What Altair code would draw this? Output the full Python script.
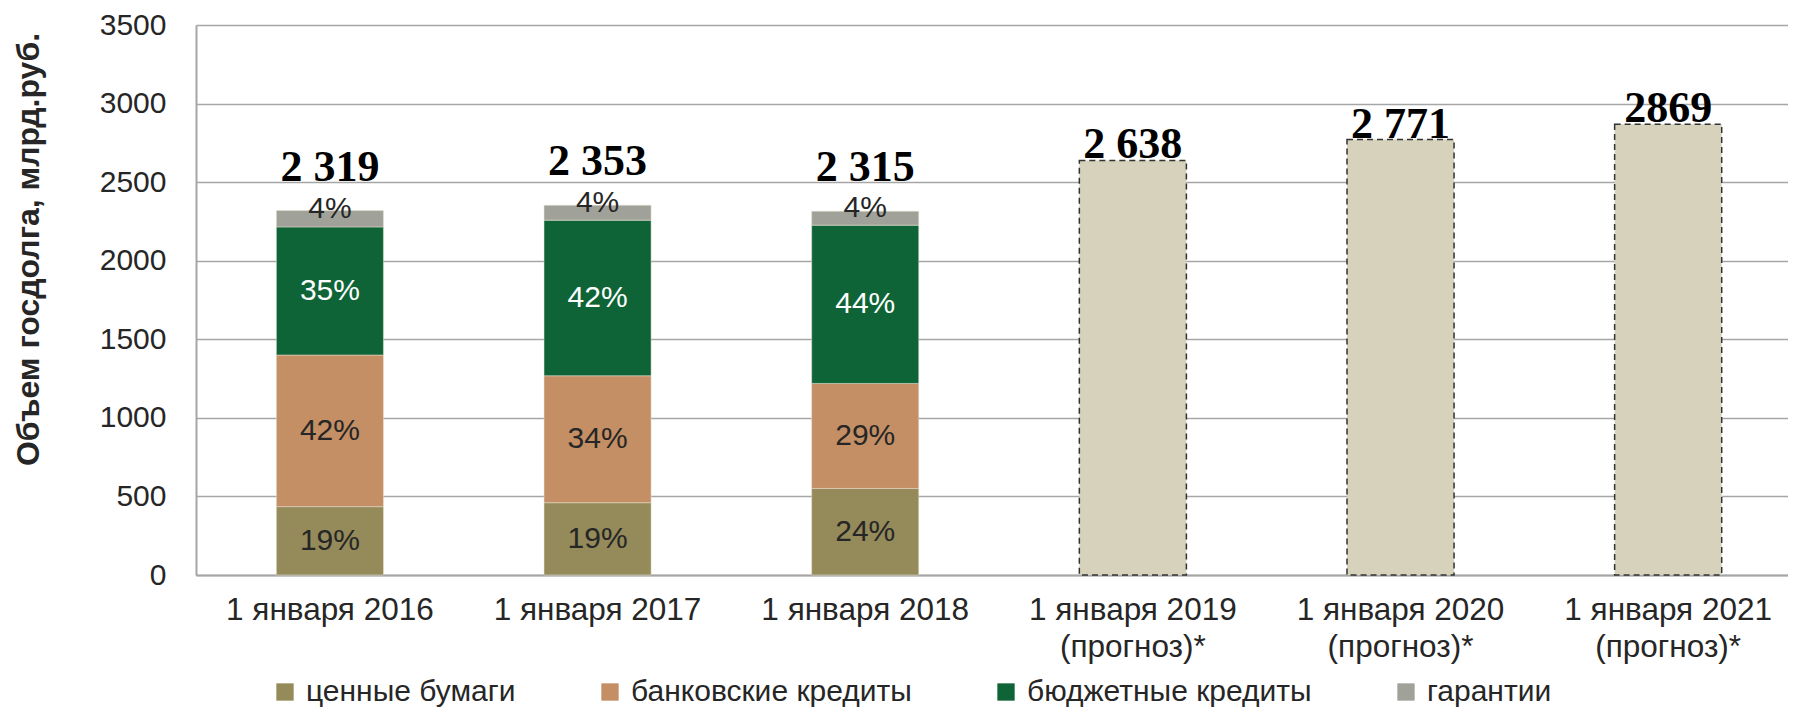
import altair as alt
import pandas as pd

# ---- data ----
categories = ["1 января 2016", "1 января 2017", "1 января 2018",
              "1 января 2019\n(прогноз)*", "1 января 2020\n(прогноз)*",
              "1 января 2021\n(прогноз)*"]
actual_years = categories[:3]
forecast_years = categories[3:]

components = ["ценные бумаги", "банковские кредиты", "бюджетные кредиты", "гарантии"]
securities = [435, 460, 551]
bank_loans = [965, 808, 668]
budget_loans = [815, 990, 1007]
guarantees = [104, 95, 89]

securities_pct = ["19%", "19%", "24%"]
bank_pct = ["42%", "34%", "29%"]
budget_pct = ["35%", "42%", "44%"]
guarantee_pct = ["4%", "4%", "4%"]

actual_totals = [2319, 2353, 2315]
actual_total_labels = ["2 319", "2 353", "2 315"]
forecast_totals = [2638, 2771, 2869]
forecast_total_labels = ["2 638", "2 771", "2869"]

colors = ["#948A5A", "#C48F64", "#0E6436", "#A0A29A"]
text_colors = ["#262626", "#262626", "#FFFFFF", "#262626"]

# ---- tables ----
series = [securities, bank_loans, budget_loans, guarantees]
pcts = [securities_pct, bank_pct, budget_pct, guarantee_pct]
rows = []
for i, cat in enumerate(actual_years):
    base = 0
    for k, comp in enumerate(components):
        v = series[k][i]
        rows.append({"cat": cat, "comp": comp, "ord": k, "value": v,
                     "y0": base, "y1": base + v, "mid": base + v / 2,
                     "pct": pcts[k][i], "tcol": text_colors[k]})
        base += v
stack_df = pd.DataFrame(rows)
actual_tot_df = pd.DataFrame({"cat": actual_years, "total": actual_totals,
                              "label": actual_total_labels})
fc_df = pd.DataFrame({"cat": forecast_years, "total": forecast_totals,
                      "label": forecast_total_labels})

FONT = "Liberation Sans, Arial, sans-serif"
SERIF = "Liberation Serif, Times New Roman, serif"
xscale = alt.Scale(domain=categories, paddingInner=0.6, paddingOuter=0.274, align=0.548)
yscale = alt.Scale(domain=[0, 3500], nice=False)

x_enc = alt.X("cat:N", sort=categories, scale=xscale,
              axis=alt.Axis(title=None, labelAngle=0, labelFontSize=31.5, labelFont=FONT,
                            labelColor="#262626", labelPadding=19, labelLineHeight=37,
                            labelLimit=400, ticks=False, domainColor="#A6A6A6",
                            domainWidth=2, grid=False,
                            labelExpr="split(datum.label, '\\n')"))

bars = alt.Chart(stack_df).mark_bar(stroke="#E8E0D0", strokeWidth=0.5).encode(
    x=x_enc,
    y=alt.Y("y0:Q", scale=yscale,
            axis=alt.Axis(title="Объем госдолга, млрд.руб.", values=list(range(0, 3501, 500)),
                          format="d",
                          labelFontSize=30, labelFont=FONT, labelColor="#262626",
                          labelPadding=30, ticks=False, domainColor="#A6A6A6", domainWidth=2,
                          gridColor="#A6A6A6", gridWidth=1.5,
                          titleFont=FONT, titleFontSize=32, titleFontWeight="bold",
                          titleColor="#262626", titleAngle=-90, titleBaseline="middle",
                          titleAlign="center", titleX=-168, titleY=224)),
    y2="y1:Q",
    color=alt.Color("comp:N", scale=alt.Scale(domain=components, range=colors),
                    legend=alt.Legend(title=None, orient="none", legendX=74, legendY=652,
                                      direction="horizontal", columns=4,
                                      symbolType="square", symbolSize=300,
                                      symbolStrokeWidth=0, labelFontSize=30,
                                      labelFont=FONT, labelColor="#262626",
                                      labelOffset=6, columnPadding=79, labelLimit=500,
                                      padding=0)),
    order=alt.Order("ord:Q"),
)

pct_main = alt.Chart(stack_df).transform_filter("datum.ord < 3").mark_text(
    font=FONT, fontSize=30, baseline="middle", align="center").encode(
    x=alt.X("cat:N", sort=categories, scale=xscale),
    y=alt.Y("mid:Q", scale=yscale),
    text="pct:N",
    color=alt.Color("tcol:N", scale=None),
)
pct_top = alt.Chart(stack_df).transform_filter("datum.ord == 3").mark_text(
    font=FONT, fontSize=30, baseline="middle", align="center", dy=-10).encode(
    x=alt.X("cat:N", sort=categories, scale=xscale),
    y=alt.Y("mid:Q", scale=yscale),
    text="pct:N",
    color=alt.Color("tcol:N", scale=None),
)

tot_actual = alt.Chart(actual_tot_df).mark_text(
    font=SERIF, fontWeight="bold", fontSize=44,
    baseline="alphabetic", align="center", dy=-30, color="#000000").encode(
    x=alt.X("cat:N", sort=categories, scale=xscale),
    y=alt.Y("total:Q", scale=yscale),
    text="label:N",
)

fc_bars = alt.Chart(fc_df).mark_bar(fill="#D6D2BC", stroke="#333333",
                                    strokeDash=[6, 4], strokeWidth=1.5).encode(
    x=alt.X("cat:N", sort=categories, scale=xscale),
    y=alt.Y("total:Q", scale=yscale),
)
tot_fc = alt.Chart(fc_df).mark_text(
    font=SERIF, fontWeight="bold", fontSize=44,
    baseline="alphabetic", align="center", dy=-2, color="#000000").encode(
    x=alt.X("cat:N", sort=categories, scale=xscale),
    y=alt.Y("total:Q", scale=yscale),
    text="label:N",
)

chart = alt.layer(bars, fc_bars, pct_main, pct_top, tot_actual, tot_fc).properties(
    width=1592, height=550,
    padding={"left": 188, "top": 17, "right": 0, "bottom": 134},
    autosize=alt.AutoSizeParams(type="none"),
).configure_view(stroke=None).configure(background="#FFFFFF")

chart.save("out.html", embed_options={"renderer": "svg", "actions": False})
